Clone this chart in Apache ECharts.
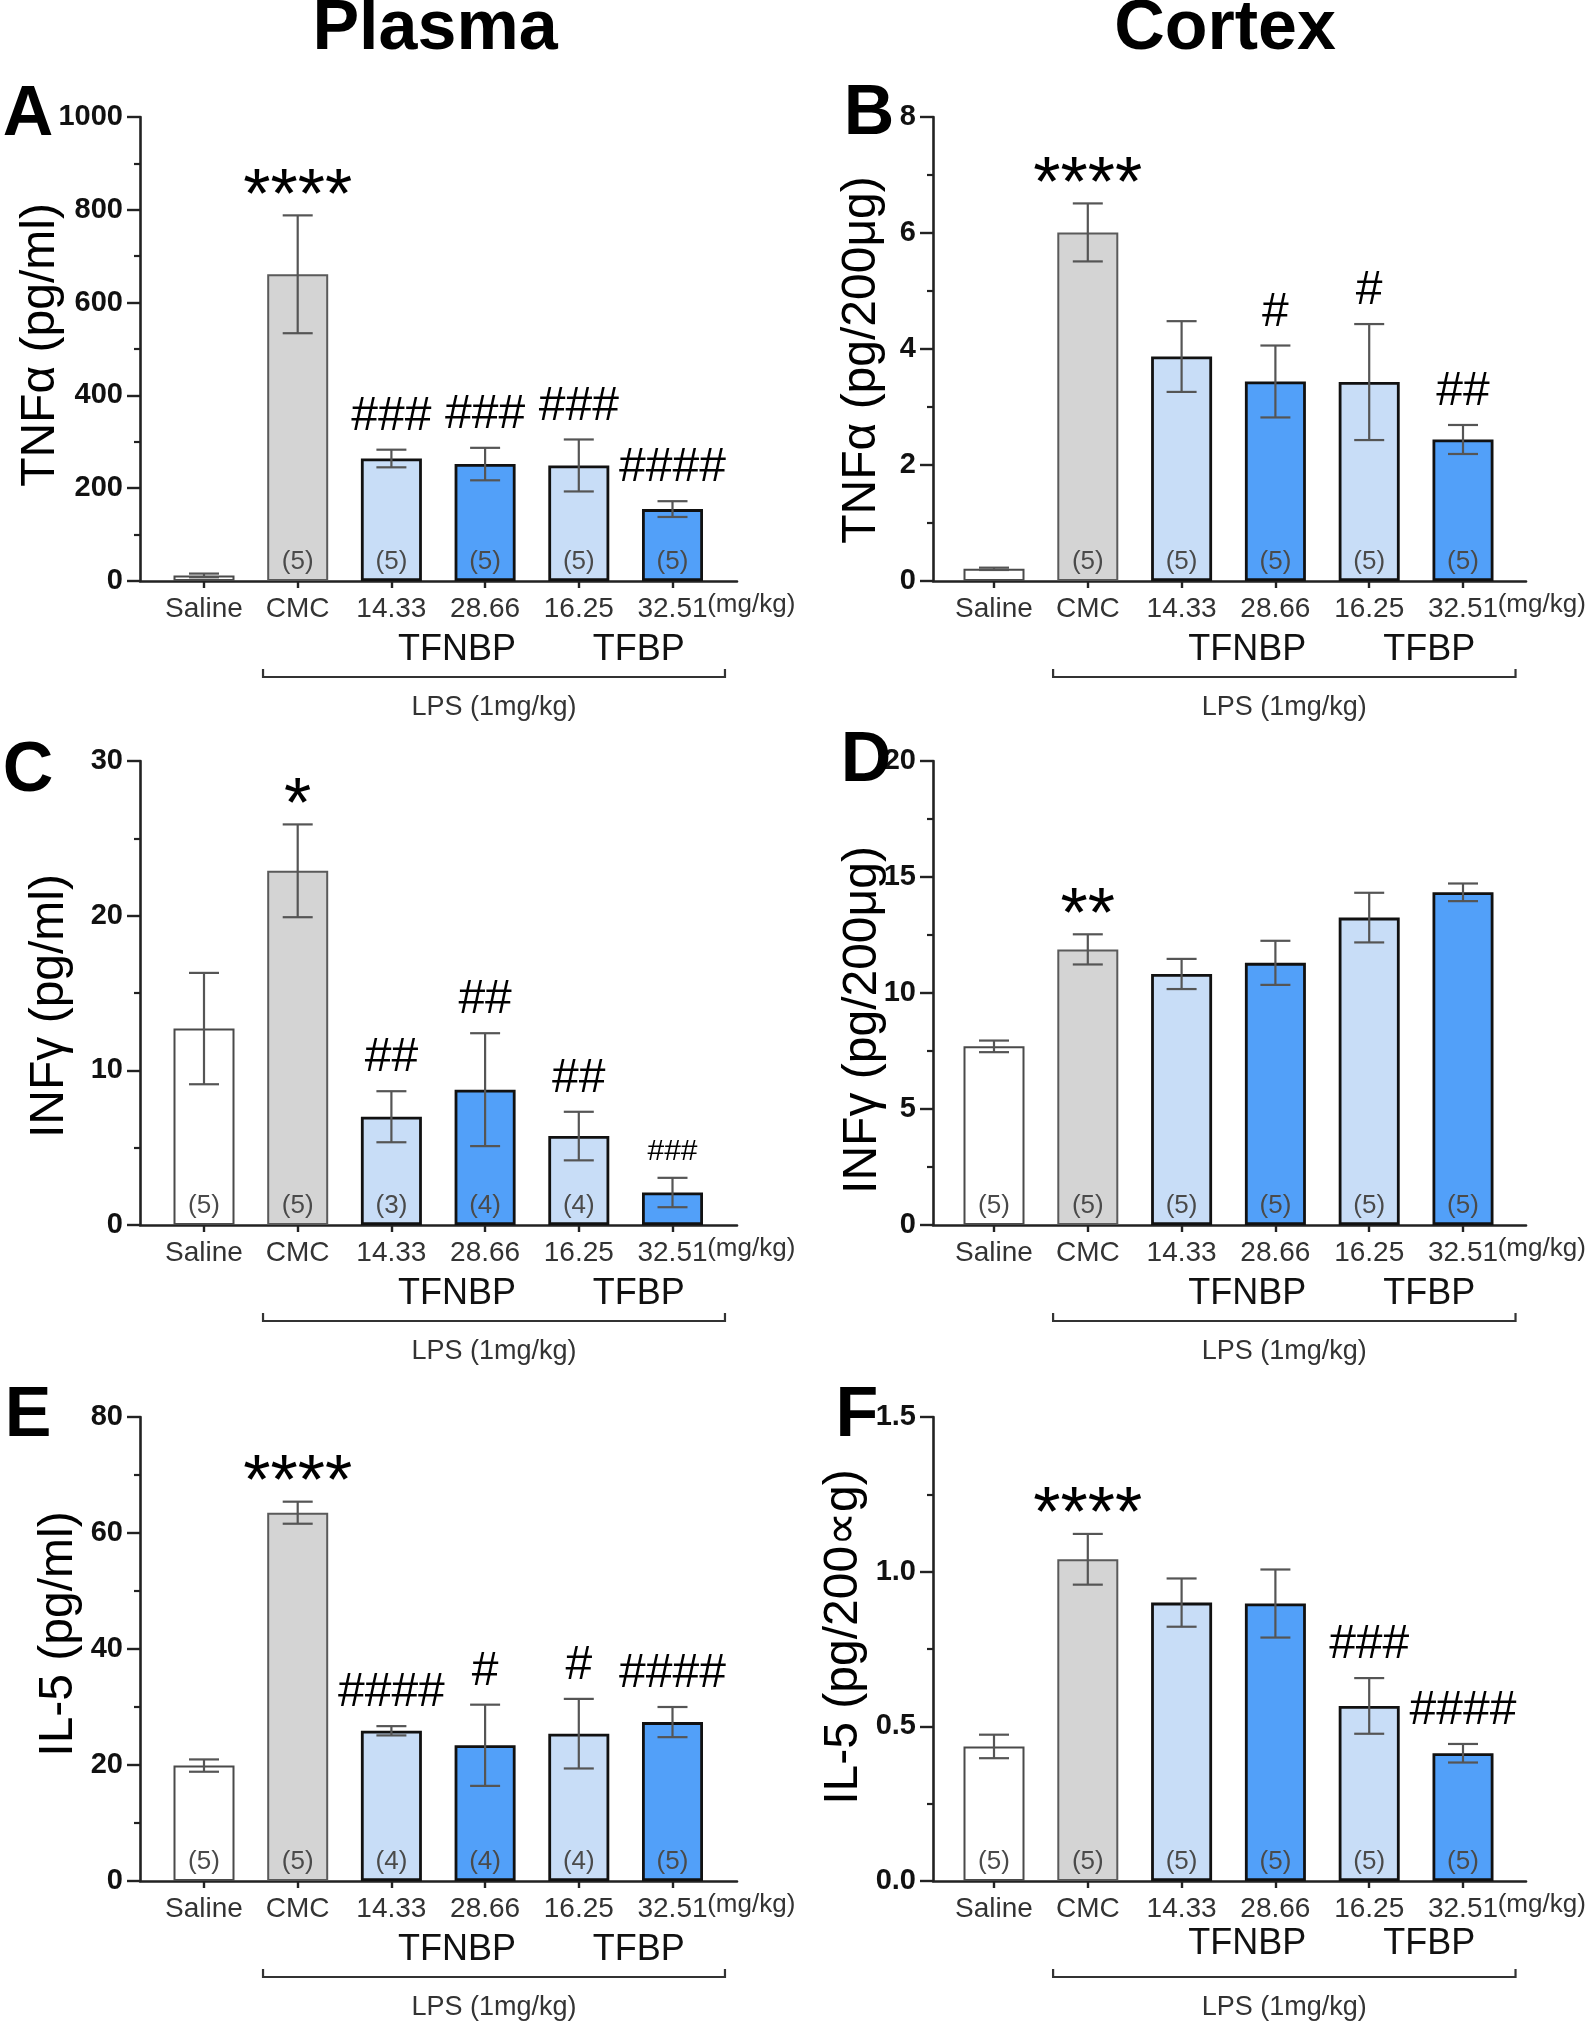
<!DOCTYPE html>
<html><head><meta charset="utf-8">
<script src="https://cdn.jsdelivr.net/npm/echarts@6/dist/echarts.min.js"></script>
<style>html,body{margin:0;padding:0;background:#fff}#c{width:1593px;height:2026px}</style>
</head><body><div id="c"></div>
<script>
// ---------- DATA ----------
const categories = ['Saline', 'CMC', '14.33', '28.66', '16.25', '32.51'];
const unitLabel = '(mg/kg)';
const groupLabels = ['TFNBP', 'TFBP'];
const lpsLabel = 'LPS (1mg/kg)';
const columnTitles = ['Plasma', 'Cortex'];

// A: Plasma TNFα
const tnfPlasmaMean = [12, 661, 264, 252, 249, 155];
const tnfPlasmaSem  = [4, 127, 19, 35, 56, 17];
const tnfPlasmaN    = [null, 5, 5, 5, 5, 5];
const tnfPlasmaSig  = ['', '****', '###', '###', '###', '####'];
const tnfPlasmaTicks = [0, 200, 400, 600, 800, 1000];

// B: Cortex TNFα
const tnfCortexMean = [0.21, 6.01, 3.87, 3.44, 3.43, 2.44];
const tnfCortexSem  = [0.02, 0.50, 0.61, 0.62, 1.00, 0.25];
const tnfCortexN    = [null, 5, 5, 5, 5, 5];
const tnfCortexSig  = ['', '****', '', '#', '#', '##'];
const tnfCortexTicks = [0, 2, 4, 6, 8];

// C: Plasma INFγ
const infPlasmaMean = [12.7, 22.9, 7.0, 8.75, 5.75, 2.1];
const infPlasmaSem  = [3.6, 3.0, 1.65, 3.65, 1.57, 0.95];
const infPlasmaN    = [5, 5, 3, 4, 4, null];
const infPlasmaSig  = ['', '*', '##', '##', '##', '###'];
const infPlasmaTicks = [0, 10, 20, 30];

// D: Cortex INFγ
const infCortexMean = [7.7, 11.88, 10.82, 11.3, 13.25, 14.34];
const infCortexSem  = [0.25, 0.65, 0.65, 0.95, 1.07, 0.38];
const infCortexN    = [5, 5, 5, 5, 5, 5];
const infCortexSig  = ['', '**', '', '', '', ''];
const infCortexTicks = [0, 5, 10, 15, 20];

// E: Plasma IL-5
const il5PlasmaMean = [19.9, 63.5, 25.9, 23.4, 25.4, 27.4];
const il5PlasmaSem  = [1.06, 1.9, 0.8, 7.0, 6.0, 2.6];
const il5PlasmaN    = [5, 5, 4, 4, 4, 5];
const il5PlasmaSig  = ['', '****', '####', '#', '#', '####'];
const il5PlasmaTicks = [0, 20, 40, 60, 80];

// F: Cortex IL-5
const il5CortexMean = [0.435, 1.04, 0.90, 0.897, 0.566, 0.413];
const il5CortexSem  = [0.038, 0.082, 0.078, 0.11, 0.09, 0.03];
const il5CortexN    = [5, 5, 5, 5, 5, 5];
const il5CortexSig  = ['', '****', '', '', '###', '####'];
const il5CortexTicks = [0, 0.5, 1.0, 1.5];

// ---------- STYLE / LAYOUT ----------
const FONT = '"Liberation Sans", Arial, Helvetica, sans-serif';
const fills   = ['#ffffff', '#d4d4d4', '#c8ddf7', '#52a0f9', '#c8ddf7', '#52a0f9'];
const borders = ['#4a4a4a', '#5a5a5a', '#111111', '#111111', '#111111', '#111111'];
const borderW = [2, 2, 2.8, 2.8, 2.8, 2.8];

const cols = [
  { left: 140, right: 737, c0: 204, step: 93.7 },
  { left: 933, right: 1526, c0: 994, step: 93.8 }
];
const rowsTop = [117, 761, 1417];
const gridH = 464;

const panels = [
  { letter: 'A', col: 0, row: 0, mean: tnfPlasmaMean, sem: tnfPlasmaSem, n: tnfPlasmaN, sig: tnfPlasmaSig, ticks: tnfPlasmaTicks, yName: 'TNFα (pg/ml)', yTitle: [41, 345], letterPos: [28, 116], dec: 0 },
  { letter: 'B', col: 1, row: 0, mean: tnfCortexMean, sem: tnfCortexSem, n: tnfCortexN, sig: tnfCortexSig, ticks: tnfCortexTicks, yName: 'TNFα (pg/200μg)', yTitle: [862, 360], letterPos: [869, 115], dec: 0 },
  { letter: 'C', col: 0, row: 1, mean: infPlasmaMean, sem: infPlasmaSem, n: infPlasmaN, sig: infPlasmaSig, ticks: infPlasmaTicks, yName: 'INFγ (pg/ml)', yTitle: [50, 1006], letterPos: [28, 772], dec: 0, smallSigIdx: 5 },
  { letter: 'D', col: 1, row: 1, mean: infCortexMean, sem: infCortexSem, n: infCortexN, sig: infCortexSig, ticks: infCortexTicks, yName: 'INFγ (pg/200μg)', yTitle: [863, 1020], letterPos: [866, 762], dec: 0 },
  { letter: 'E', col: 0, row: 2, mean: il5PlasmaMean, sem: il5PlasmaSem, n: il5PlasmaN, sig: il5PlasmaSig, ticks: il5PlasmaTicks, yName: 'IL-5 (pg/ml)', yTitle: [59, 1634], letterPos: [28, 1417], dec: 0 },
  { letter: 'F', col: 1, row: 2, mean: il5CortexMean, sem: il5CortexSem, n: il5CortexN, sig: il5CortexSig, ticks: il5CortexTicks, yName: 'IL-5 (pg/200∝g)', yTitle: [844, 1637], letterPos: [857, 1417], dec: 1, groupDy: -6 }
];

const idxs = categories.map((_, i) => i);
const grid = [], xAxis = [], yAxis = [], series = [];

panels.forEach((p, k) => {
  const c = cols[p.col];
  grid.push({ left: c.left, top: rowsTop[p.row], width: c.right - c.left, height: gridH });
  xAxis.push({
    type: 'value', gridIndex: k,
    min: (c.left - c.c0) / c.step, max: (c.right - c.c0) / c.step,
    axisLine: { show: true, onZero: false, lineStyle: { color: '#222', width: 2.6 } },
    axisTick: { show: true, customValues: idxs, length: 7, lineStyle: { color: '#222', width: 2.4 } },
    axisLabel: { show: true, customValues: idxs, formatter: v => categories[Math.round(v)] || '', fontSize: 28, color: '#333', fontFamily: FONT, margin: 14 },
    splitLine: { show: false }
  });
  const t = p.ticks;
  yAxis.push({
    type: 'value', gridIndex: k, min: t[0], max: t[t.length - 1], interval: t[1] - t[0],
    axisLine: { show: true, onZero: false, lineStyle: { color: '#222', width: 2.6 } },
    axisTick: { show: true, length: 13, lineStyle: { color: '#222', width: 2.4 } },
    minorTick: { show: true, splitNumber: 2, length: 6, lineStyle: { color: '#222', width: 2.2 } },
    axisLabel: { fontSize: 29, fontWeight: 'bold', color: '#111', fontFamily: FONT, margin: 17,
      formatter: v => p.dec ? v.toFixed(p.dec) : String(v) },
    splitLine: { show: false }
  });
  // bars
  series.push({
    type: 'bar', xAxisIndex: k, yAxisIndex: k, barWidth: 61,
    data: p.mean.map((v, i) => ({ value: [i, v], itemStyle: { color: fills[i], borderColor: borders[i], borderWidth: borderW[i] } })),
    animation: false, z: 2
  });
  // error bars
  series.push({
    type: 'custom', xAxisIndex: k, yAxisIndex: k, z: 3, animation: false,
    data: p.mean.map((v, i) => [i, v - p.sem[i], v + p.sem[i]]),
    encode: { x: 0, y: [1, 2] },
    renderItem: (params, api) => {
      const x = api.value(0);
      const a = api.coord([x, api.value(2)]), b = api.coord([x, api.value(1)]);
      const hw = 15, st = { stroke: '#555', lineWidth: 2.2 };
      return { type: 'group', children: [
        { type: 'line', shape: { x1: a[0], y1: a[1], x2: b[0], y2: b[1] }, style: st },
        { type: 'line', shape: { x1: a[0] - hw, y1: a[1], x2: a[0] + hw, y2: a[1] }, style: st },
        { type: 'line', shape: { x1: b[0] - hw, y1: b[1], x2: b[0] + hw, y2: b[1] }, style: st }
      ] };
    }
  });
  // n labels
  series.push({
    type: 'custom', xAxisIndex: k, yAxisIndex: k, z: 4, animation: false,
    data: p.mean.map((v, i) => [i, 0]),
    encode: { x: 0, y: 1 },
    renderItem: (params, api) => {
      const nn = p.n[params.dataIndex];
      if (nn == null) return null;
      const pt = api.coord([api.value(0), 0]);
      return { type: 'text', style: { text: '(' + nn + ')', x: pt[0], y: pt[1] - 19, fill: '#4a4a4a', fontSize: 26, fontFamily: FONT, align: 'center', verticalAlign: 'middle' } };
    }
  });
  // significance marks
  series.push({
    type: 'custom', xAxisIndex: k, yAxisIndex: k, z: 5, animation: false,
    data: p.mean.map((v, i) => [i, v + p.sem[i]]),
    encode: { x: 0, y: 1 },
    renderItem: (params, api) => {
      const s = p.sig[params.dataIndex];
      if (!s) return null;
      const pt = api.coord([api.value(0), api.value(1)]);
      const star = s.indexOf('*') >= 0;
      const small = p.smallSigIdx === params.dataIndex;
      const fz = star ? 70 : (small ? 30 : 48);
      const y = pt[1] - (small ? 26 : 33) + (star ? 0.23 * fz : 0);
      return { type: 'text', style: { text: s, x: pt[0], y: y, fill: '#000', fontSize: fz, fontFamily: FONT, align: 'center', verticalAlign: 'middle' } };
    }
  });
});

const chart = echarts.init(document.getElementById('c'), null, { renderer: 'canvas', width: 1593, height: 2026 });
chart.setOption({ animation: false, backgroundColor: '#fff', grid, xAxis, yAxis, series });

// ---------- annotations ----------
const g = [];
const txt = (text, x, y, size, extra) => Object.assign({ type: 'text', x, y, z: 20,
  style: Object.assign({ text, fontSize: size, fontFamily: FONT, fill: '#111', align: 'center', verticalAlign: 'middle' }, extra || {}) });

g.push(txt(columnTitles[0], 435, 30, 70, { fontWeight: 'bold', fill: '#000' }));
g.push(txt(columnTitles[1], 1225, 30, 70, { fontWeight: 'bold', fill: '#000' }));

panels.forEach((p, k) => {
  const px = v => chart.convertToPixel({ gridIndex: k }, [v, 0]);
  const zero = px(0)[1];
  g.push(txt(p.letter, p.letterPos[0], p.letterPos[1], 70, { fontWeight: 'bold', fill: '#000' }));
  g.push(Object.assign(txt(p.yName, p.yTitle[0], p.yTitle[1], 48, { fill: '#000' }), { rotation: Math.PI / 2 }));
  g.push(txt(unitLabel, px(5.37)[0], zero + 24, 26, { align: 'left', fill: '#333' }));
  const gy = zero + 69 + (p.groupDy || 0);
  g.push(txt(groupLabels[0], px(2.7)[0], gy, 36, { fill: '#111' }));
  g.push(txt(groupLabels[1], px(4.64)[0], gy, 36, { fill: '#111' }));
  const x1 = px(0.63)[0], x2 = px(5.56)[0], by = zero + 96;
  g.push({ type: 'polyline', z: 20, shape: { points: [[x1, by - 8], [x1, by], [x2, by], [x2, by - 8]] }, style: { stroke: '#333', lineWidth: 2.2, fill: null } });
  g.push(txt(lpsLabel, (x1 + x2) / 2, zero + 127, 27, { fill: '#333' }));
});
chart.setOption({ graphic: g });
</script></body></html>
